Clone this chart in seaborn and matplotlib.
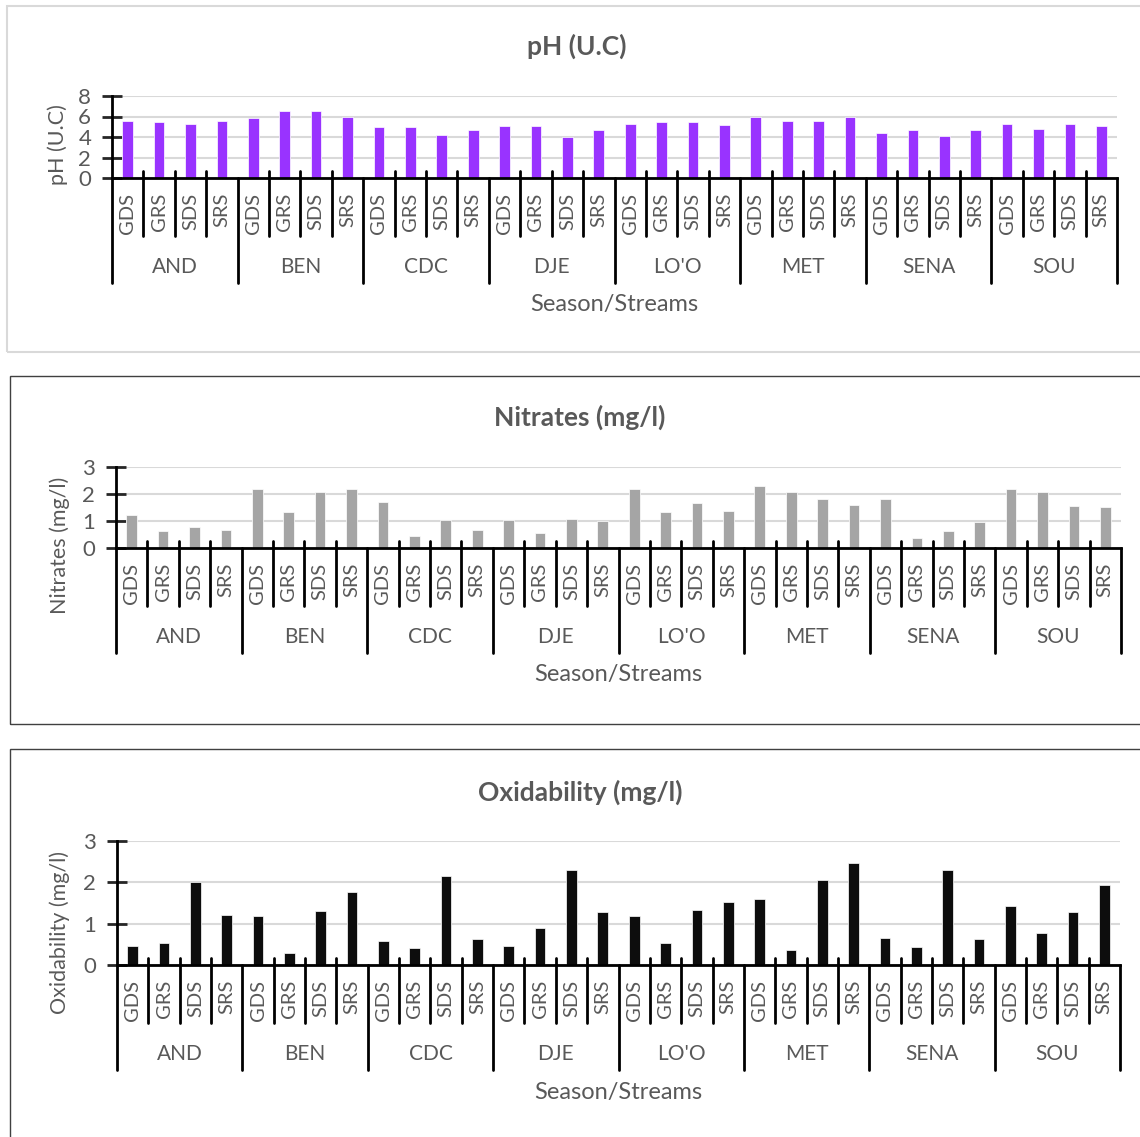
import numpy as np
import pandas as pd
import matplotlib
matplotlib.use("Agg")
import matplotlib.pyplot as plt
from matplotlib.patches import Rectangle
from matplotlib.lines import Line2D
import matplotlib.transforms as mtrans
import seaborn as sns

sns.set_theme(style="white")
plt.rcParams['font.family'] = ['Lato', 'DejaVu Sans']

# ---------------- data ----------------
streams = ["AND", "BEN", "CDC", "DJE", "LO'O", "MET", "SENA", "SOU"]
seasons = ["GDS", "GRS", "SDS", "SRS"]

ph_values = [5.6, 5.5, 5.3, 5.6,
             5.9, 6.5, 6.5, 6.0,
             5.0, 5.0, 4.2, 4.7,
             5.1, 5.1, 4.0, 4.7,
             5.3, 5.5, 5.5, 5.2,
             6.0, 5.6, 5.6, 6.0,
             4.4, 4.7, 4.1, 4.7,
             5.3, 4.8, 5.3, 5.1]

nitrate_values = [1.24, 0.62, 0.77, 0.67,
                  2.19, 1.33, 2.09, 2.19,
                  1.71, 0.43, 1.04, 0.67,
                  1.04, 0.57, 1.09, 0.99,
                  2.19, 1.33, 1.66, 1.38,
                  2.29, 2.09, 1.81, 1.61,
                  1.81, 0.38, 0.62, 0.95,
                  2.19, 2.09, 1.57, 1.52]

oxid_values = [0.47, 0.53, 2.00, 1.22,
               1.18, 0.28, 1.31, 1.77,
               0.59, 0.40, 2.15, 0.62,
               0.46, 0.90, 2.31, 1.28,
               1.18, 0.53, 1.34, 1.53,
               1.59, 0.37, 2.06, 2.46,
               0.66, 0.44, 2.31, 0.62,
               1.43, 0.78, 1.28, 1.93]

titles = ["pH (U.C)", "Nitrates (mg/l)", "Oxidability (mg/l)"]
ylabels = ["pH (U.C)", "Nitrates (mg/l)", "Oxidability (mg/l)"]
xlabel = "Season/Streams"
yticks_list = [[0, 2, 4, 6, 8], [0, 1, 2, 3], [0, 1, 2, 3]]
colors = ["#9933FF", "#A5A5A5", "#0D0D0D"]
series = [ph_values, nitrate_values, oxid_values]

# ---------------- layout ----------------
W, H = 1140, 1137
fig = plt.figure(figsize=(W / 100, H / 100), dpi=100)

# axis pixel boxes: x0, x1, ytop, yzero
boxes = [(112, 1117, 96, 178), (116, 1121, 467, 548), (117, 1120, 841, 965)]
frames = [((7, 6, 1150, 352), "#d9d9d9", 1.5),
          ((10, 376, 1150, 724), "#404040", 1.0),
          ((10, 749, 1150, 1150), "#404040", 1.0)]
title_pos = [(577, 46), (580, 417), (580, 792)]
ylabel_pos = [(58, 145), (60, 545), (60, 933)]

TXT = "#595959"

def fy(ypix):
    return 1 - ypix / H

for (x0, y0, x1, y1), ec, lw in frames:
    fig.add_artist(Rectangle((x0 / W, fy(y1)), (x1 - x0) / W, (y1 - y0) / H,
                             transform=fig.transFigure, fill=False, ec=ec, lw=lw))

labels = [f"{s}-{se}" for s in streams for se in seasons]

for k in range(3):
    x0, x1, ytop, yzero = boxes[k]
    ax = fig.add_axes([x0 / W, fy(yzero), (x1 - x0) / W, (yzero - ytop) / H])
    df = pd.DataFrame({"label": labels, "value": series[k]})
    sns.barplot(data=df, x="label", y="value", order=labels, color=colors[k],
                saturation=1, width=0.34, ax=ax, edgecolor="white", linewidth=0.5)
    ax.set_xlim(-0.5, len(labels) - 0.5)
    yt = yticks_list[k]
    ax.set_ylim(yt[0], yt[-1])
    ax.set_yticks(yt)
    ax.set_xticks([])
    ax.set_xlabel("")
    ax.set_ylabel("")
    ax.yaxis.grid(True, color="#d9d9d9", lw=1.5)
    ax.set_axisbelow(True)
    for sp in ["top", "right"]:
        ax.spines[sp].set_visible(False)
    for sp in ["left", "bottom"]:
        ax.spines[sp].set_color("black")
        ax.spines[sp].set_linewidth(2)
    ax.tick_params(axis="y", direction="inout", length=14, width=2,
                   labelsize=16, labelcolor=TXT, pad=8, left=True)
    ax.set_facecolor("none")

    tr = mtrans.blended_transform_factory(ax.transData, fig.transFigure)
    n = len(labels)
    for i in range(n + 1):
        xx = i - 0.5
        if i % 4 == 0:
            ya, yb = yzero, yzero + 105
        else:
            ya, yb = yzero - 7, yzero + 58
        fig.add_artist(Line2D([xx, xx], [fy(ya), fy(yb)], transform=tr,
                              color="black", lw=2, clip_on=False))
    for i in range(n):
        ax.text(i, fy(yzero + 15), seasons[i % 4], transform=tr, rotation=90,
                ha="center", va="top", fontsize=14.5, color=TXT, clip_on=False)
    for g, s in enumerate(streams):
        ax.text(4 * g + 1.5, fy(yzero + 89), s, transform=tr, ha="center",
                va="center", fontsize=15, color=TXT, clip_on=False)
    fig.text((x0 + x1) / 2 / W, fy(yzero + 127), xlabel, ha="center",
             va="center", fontsize=17, color=TXT)
    tx, ty = title_pos[k]
    fig.text(tx / W, fy(ty), titles[k], ha="center", va="center",
             fontsize=19, fontweight="bold", color=TXT)
    lx, ly = ylabel_pos[k]
    fig.text(lx / W, fy(ly), ylabels[k], rotation=90, ha="center", va="center",
             fontsize=15.5, color=TXT)

fig.savefig("out.png", dpi=100, facecolor="white")
